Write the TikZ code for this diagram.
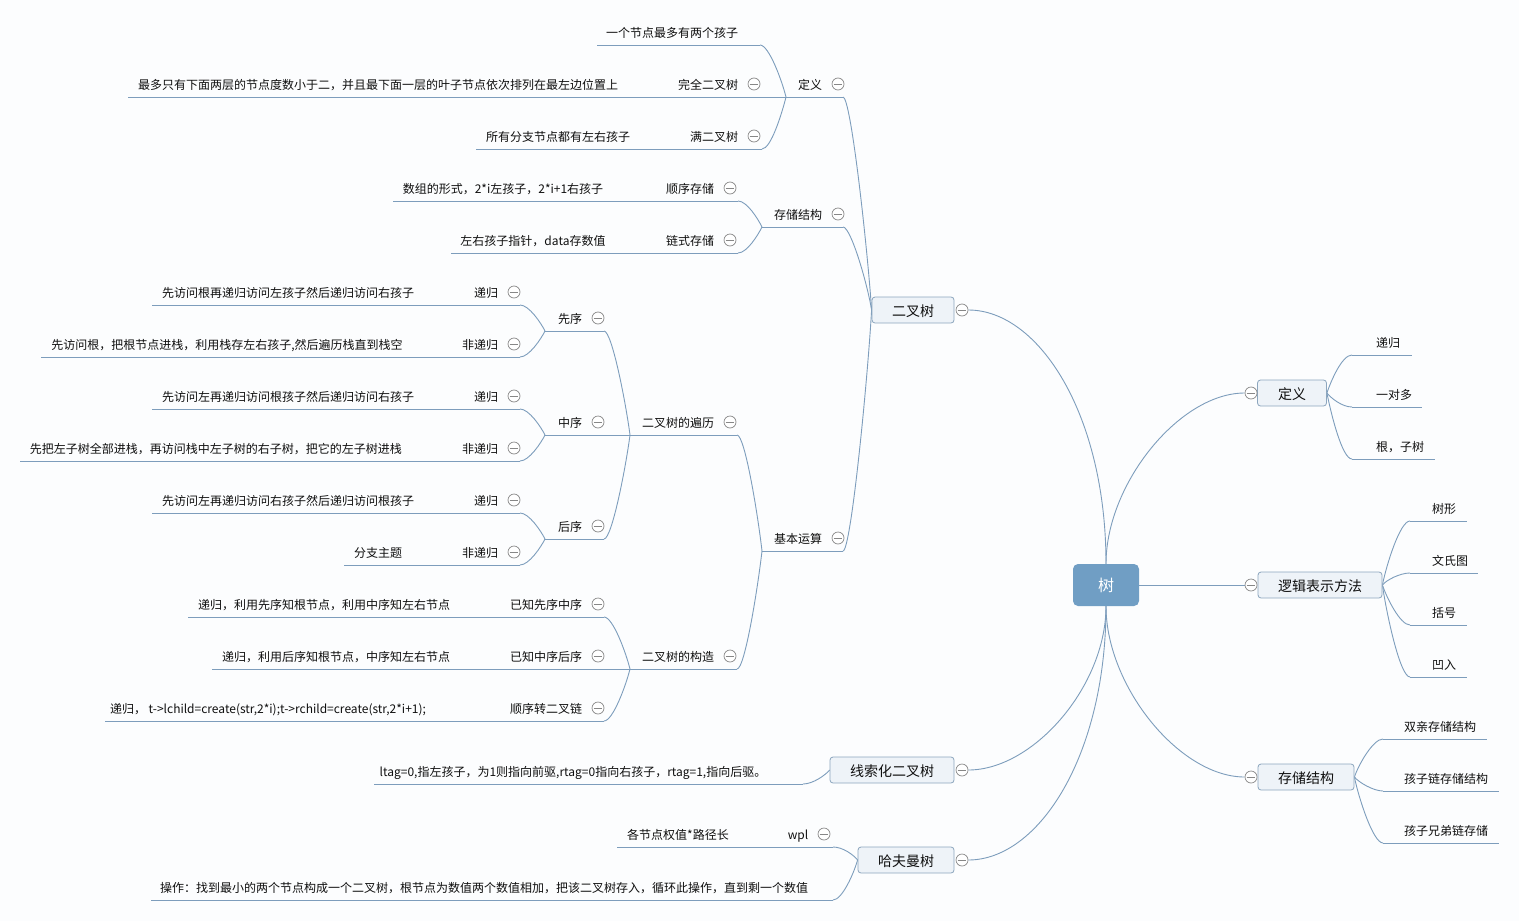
\documentclass[tikz,border=0pt]{standalone}
\usepackage{fontspec}
\setmainfont{Noto Sans CJK SC}
\pgfdeclarelayer{back}
\pgfdeclarelayer{lines}
\pgfsetlayers{back,lines,main}
\definecolor{lnc}{RGB}{125,157,188}
\definecolor{rootc}{RGB}{112,158,196}
\definecolor{boxf}{RGB}{238,243,248}
\definecolor{boxd}{RGB}{140,166,190}
\definecolor{foldc}{RGB}{135,135,135}
\definecolor{txt}{RGB}{15,15,15}
\definecolor{bgc}{RGB}{252,253,254}
\tikzset{
  ln/.style={draw=lnc, line width=0.9pt},
  sub/.style={inner sep=0pt, font=\fontsize{12}{14}\selectfont, text=txt, text height=11.5pt, text depth=0.5pt},
  mbox/.style={draw=boxd, fill=boxf, rounded corners=3pt, line width=0.8pt, inner sep=0pt, minimum height=26pt, font=\fontsize{14}{16}\selectfont, text=txt, text height=13pt, text depth=1pt},
  rootbox/.style={fill=rootc, rounded corners=5pt, minimum width=66pt, minimum height=42pt, inner sep=0pt, text=white, font=\fontsize{16}{18}\selectfont, text height=14.5pt, text depth=1.5pt},
  fold/.style={circle, draw=foldc, fill=white, minimum size=12pt, inner sep=0pt, line width=0.7pt,
    path picture={\draw[draw=foldc, line width=0.7pt] ([xshift=-4.3pt]path picture bounding box.center) -- ([xshift=4.3pt]path picture bounding box.center);}}
}
% name, x, y, text, underline left, underline right
\newcommand\mmsub[6]{%
  \node[sub] (#1) at (#2,#3) {#4};
  \coordinate (#1-l) at (#5,#3+13);
  \coordinate (#1-r) at (#6,#3+13);
  \draw[ln] (#1-l) -- (#1-r);}
\newcommand\mmfold[3]{\node[fold] (#1) at (#2,#3) {};}
\newcommand\conL[4]{\draw[ln] (#1) .. controls +(#3,0) and +(-4,#4) .. (#2);}
\newcommand\conR[3]{\draw[ln] (#1) .. controls +(4,#3) and +(-10,0) .. (#2);}
\newcommand\conS[2]{\draw[ln] (#1) -- (#2);}
\begin{document}
\begin{tikzpicture}[x=1pt,y=-1pt]
\begin{pgfonlayer}{back}
\fill[bgc] (0,0) rectangle (1519,921);
\end{pgfonlayer}
\useasboundingbox (0,0) rectangle (1519,921);

% main topics
\node[rootbox] (T) at (1106,585) {树};
\node[mbox, minimum width=82pt] (bt) at (913,310) {二叉树};
\node[mbox, minimum width=124pt] (xs) at (892,770) {线索化二叉树};
\node[mbox, minimum width=96pt] (hf) at (906,860) {哈夫曼树};
\node[mbox, minimum width=69pt] (rd) at (1292,393) {定义};
\node[mbox, minimum width=124pt] (lj) at (1320,585) {逻辑表示方法};
\node[mbox, minimum width=96pt] (rs) at (1306,777) {存储结构};

% left: 二叉树
\mmsub{d2}{810}{84}{定义}{786}{843}
\mmsub{d2a}{672}{32}{一个节点最多有两个孩子}{597}{760}
\mmsub{d2b}{708}{84}{完全二叉树}{668}{762}
\mmsub{d2ba}{378}{84}{最多只有下面两层的节点度数小于二，并且最下面一层的叶子节点依次排列在最左边位置上}{128}{628}
\mmsub{d2c}{714}{136}{满二叉树}{681}{762}
\mmsub{d2ca}{558}{136}{所有分支节点都有左右孩子}{476}{640}
\mmsub{cc}{798}{214}{存储结构}{762}{843}
\mmsub{cca}{690}{188}{顺序存储}{657}{738}
\mmsub{ccaa}{503}{188}{数组的形式，2*i左孩子，2*i+1右孩子}{393}{613}
\mmsub{ccb}{690}{240}{链式存储}{657}{738}
\mmsub{ccba}{533}{240}{左右孩子指针，data存数值}{451}{615}
\mmsub{jb}{798}{538}{基本运算}{762}{843}
\mmsub{bl}{678}{422}{二叉树的遍历}{630}{737}
\mmsub{pre}{570}{318}{先序}{545}{604}
\mmsub{prea}{486}{292}{递归}{465}{520}
\mmsub{preaa}{288}{292}{先访问根再递归访问左孩子然后递归访问右孩子}{152}{424}
\mmsub{preb}{480}{344}{非递归}{452}{520}
\mmsub{prebb}{227}{344}{先访问根，把根节点进栈，利用栈存左右孩子,然后遍历栈直到栈空}{41}{412}
\mmsub{mid}{570}{422}{中序}{545}{604}
\mmsub{mida}{486}{396}{递归}{465}{520}
\mmsub{midaa}{288}{396}{先访问左再递归访问根孩子然后递归访问右孩子}{152}{424}
\mmsub{midb}{480}{448}{非递归}{452}{520}
\mmsub{midbb}{216}{448}{先把左子树全部进栈，再访问栈中左子树的右子树，把它的左子树进栈}{20}{412}
\mmsub{post}{570}{526}{后序}{545}{604}
\mmsub{posta}{486}{500}{递归}{465}{520}
\mmsub{postaa}{288}{500}{先访问左再递归访问右孩子然后递归访问根孩子}{152}{424}
\mmsub{postb}{480}{552}{非递归}{452}{520}
\mmsub{postbb}{378}{552}{分支主题}{344}{412}
\mmsub{gz}{678}{656}{二叉树的构造}{630}{737}
\mmsub{gza}{546}{604}{已知先序中序}{501}{604}
\mmsub{gzaa}{324}{604}{递归，利用先序知根节点，利用中序知左右节点}{188}{460}
\mmsub{gzb}{546}{656}{已知中序后序}{501}{604}
\mmsub{gzbb}{336}{656}{递归，利用后序知根节点，中序知左右节点}{212}{460}
\mmsub{gzc}{546}{708}{顺序转二叉链}{501}{604}
\mmsub{gzcc}{268}{708}{递归， t->lchild=create(str,2*i);t->rchild=create(str,2*i+1);}{105}{432}
% left: 线索化二叉树, 哈夫曼树
\mmsub{xsa}{573}{771}{ltag=0,指左孩子，为1则指向前驱,rtag=0指向右孩子，rtag=1,指向后驱。}{374}{803}
\mmsub{hfa}{798}{834}{wpl}{779}{833}
\mmsub{hfaa}{678}{834}{各节点权值*路径长}{617}{738}
\mmsub{hfb}{484}{887}{操作：找到最小的两个节点构成一个二叉树，根节点为数值两个数值相加，把该二叉树存入，循环此操作，直到剩一个数值}{151}{833}

% right side
\mmsub{rda}{1388}{342}{递归}{1352}{1412}
\mmsub{rdb}{1394}{394}{一对多}{1352}{1422}
\mmsub{rdc}{1400}{446}{根，子树}{1352}{1435}
\mmsub{lja}{1444}{508}{树形}{1410}{1467}
\mmsub{ljb}{1450}{560}{文氏图}{1410}{1478}
\mmsub{ljc}{1444}{612}{括号}{1410}{1467}
\mmsub{ljd}{1444}{664}{凹入}{1410}{1467}
\mmsub{rsa}{1440}{726}{双亲存储结构}{1383}{1487}
\mmsub{rsb}{1446}{778}{孩子链存储结构}{1383}{1499}
\mmsub{rsc}{1446}{830}{孩子兄弟链存储}{1383}{1499}

% fold markers
\mmfold{btf}{962}{310}
\mmfold{xsf}{962}{770}
\mmfold{hff}{962}{860}
\mmfold{rdf}{1251}{393}
\mmfold{ljf}{1251}{585}
\mmfold{rsf}{1251}{777}
\mmfold{d2f}{838}{84}
\mmfold{d2bf}{754}{84}
\mmfold{d2cf}{754}{136}
\mmfold{ccf}{838}{214}
\mmfold{ccaf}{730}{188}
\mmfold{ccbf}{730}{240}
\mmfold{jbf}{838}{538}
\mmfold{blf}{730}{422}
\mmfold{pref}{598}{318}
\mmfold{preaf}{514}{292}
\mmfold{prebf}{514}{344}
\mmfold{midf}{598}{422}
\mmfold{midaf}{514}{396}
\mmfold{midbf}{514}{448}
\mmfold{postf}{598}{526}
\mmfold{postaf}{514}{500}
\mmfold{postbf}{514}{552}
\mmfold{gzf}{730}{656}
\mmfold{gzaf}{598}{604}
\mmfold{gzbf}{598}{656}
\mmfold{gzcf}{598}{708}
\mmfold{hfaf}{824}{834}

\begin{pgfonlayer}{lines}
% from root
\draw[ln] (T.north) .. controls +(0,-150) and +(70,0) .. (btf.east);
\draw[ln] (T.north) .. controls +(0,-80) and +(-65,0) .. (rdf.west);
\draw[ln] (T.east) -- (ljf.west);
\draw[ln] (T.south) .. controls +(0,80) and +(-65,0) .. (rsf.west);
\draw[ln] (T.south) .. controls +(0,80) and +(65,0) .. (xsf.east);
\draw[ln] (T.south) .. controls +(0,150) and +(70,0) .. (hff.east);
% 二叉树
\conL{d2-r}{bt.west}{8}{-60}
\conL{cc-r}{bt.west}{8}{-25}
\conL{jb-r}{bt.west}{8}{70}
\conL{d2a-r}{d2-l}{9}{-16}
\conS{d2b-r}{d2-l}
\conL{d2c-r}{d2-l}{9}{16}
\conS{d2ba-r}{d2b-l}
\conS{d2ca-r}{d2c-l}
\conL{cca-r}{cc-l}{9}{-8}
\conL{ccb-r}{cc-l}{9}{8}
\conS{ccaa-r}{cca-l}
\conS{ccba-r}{ccb-l}
\conL{bl-r}{jb-l}{8}{-35}
\conL{gz-r}{jb-l}{8}{35}
\conL{pre-r}{bl-l}{8}{-31}
\conS{mid-r}{bl-l}
\conL{post-r}{bl-l}{8}{31}
\conL{prea-r}{pre-l}{9}{-8}
\conL{preb-r}{pre-l}{9}{8}
\conL{mida-r}{mid-l}{9}{-8}
\conL{midb-r}{mid-l}{9}{8}
\conL{posta-r}{post-l}{9}{-8}
\conL{postb-r}{post-l}{9}{8}
\conS{preaa-r}{prea-l}
\conS{prebb-r}{preb-l}
\conS{midaa-r}{mida-l}
\conS{midbb-r}{midb-l}
\conS{postaa-r}{posta-l}
\conS{postbb-r}{postb-l}
\conL{gza-r}{gz-l}{9}{-16}
\conS{gzb-r}{gz-l}
\conL{gzc-r}{gz-l}{9}{16}
\conS{gzaa-r}{gza-l}
\conS{gzbb-r}{gzb-l}
\conS{gzcc-r}{gzc-l}
% 线索化, 哈夫曼
\conL{xsa-r}{xs.west}{10}{5}
\conL{hfa-r}{hf.west}{10}{-5}
\conL{hfb-r}{hf.west}{9}{14}
\conS{hfaa-r}{hfa-l}
% right side
\conR{rd.east}{rda-l}{-12}
\conR{rd.east}{rdb-l}{5}
\conR{rd.east}{rdc-l}{20}
\conR{lj.east}{lja-l}{-20}
\conR{lj.east}{ljb-l}{-5}
\conR{lj.east}{ljc-l}{12}
\conR{lj.east}{ljd-l}{28}
\conR{rs.east}{rsa-l}{-12}
\conR{rs.east}{rsb-l}{5}
\conR{rs.east}{rsc-l}{20}
\end{pgfonlayer}
\end{tikzpicture}
\end{document}
